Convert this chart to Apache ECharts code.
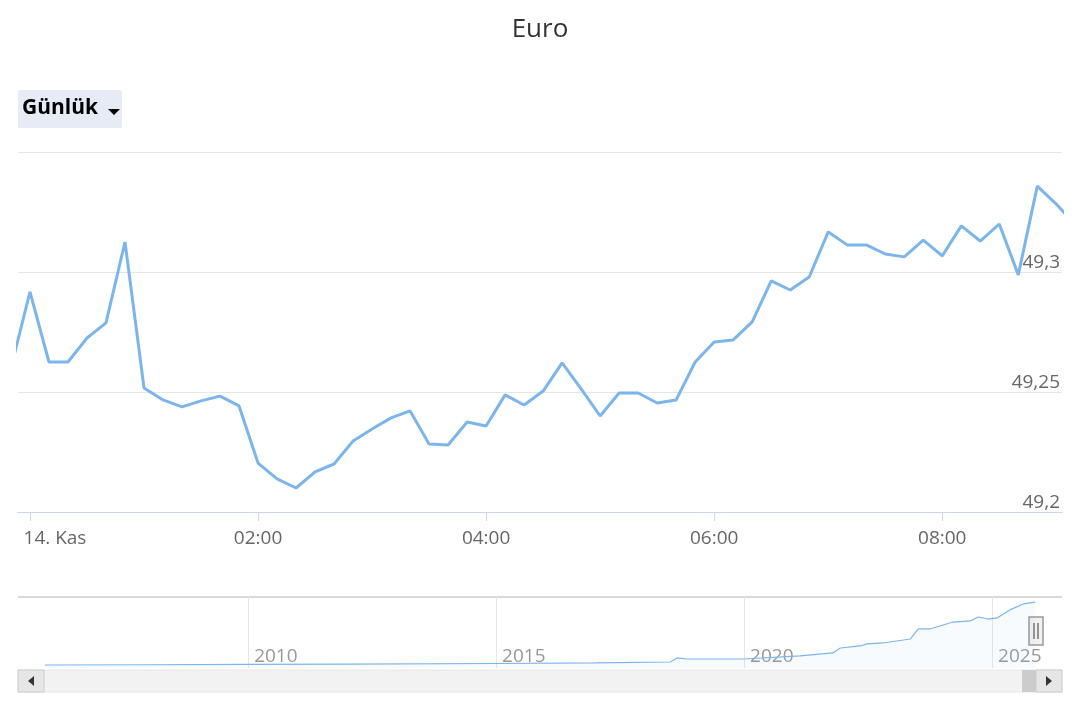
<!DOCTYPE html>
<html>
<head>
<meta charset="utf-8">
<title>Euro</title>
<script src="https://cdn.jsdelivr.net/npm/echarts@6/dist/echarts.min.js"></script>
<style>html,body{margin:0;padding:0;background:#fff;}#main{width:1080px;height:720px;}</style>
</head>
<body>
<div id="main"></div>
<script>
// gün içi veriler: saat (0 = 14. Kas 00:00), 10 dakikada bir
var hours = [];
for (var i = -1; i <= 55; i++) hours.push(i / 6);
var rates = [49.26, 49.2917, 49.2625, 49.2625, 49.2725, 49.2788, 49.3125, 49.2517, 49.2467, 49.2438,
  49.2463, 49.2483, 49.2442, 49.2204, 49.2138, 49.21, 49.2167, 49.22, 49.2296, 49.2346,
  49.2392, 49.2421, 49.2283, 49.2279, 49.2375, 49.2358, 49.2488, 49.2446, 49.2504, 49.2621,
  49.2513, 49.24, 49.2496, 49.2496, 49.2454, 49.2467, 49.2625, 49.2708, 49.2717, 49.2792,
  49.2963, 49.2925, 49.2979, 49.3167, 49.3113, 49.3113, 49.3075, 49.3063, 49.3133, 49.3067,
  49.3192, 49.3129, 49.32, 49.2988, 49.3358, 49.3283, 49.3196];
var hourTicks = [0, 2, 4, 6, 8];
var yTicks = [49.2, 49.25, 49.3];

// navigator: uzun dönem
var navYears = [2005.9, 2008, 2010, 2012, 2015, 2017, 2018.51, 2018.65, 2018.85, 2019.98, 2021.13, 2021.79,
  2021.94, 2022.34, 2022.48, 2022.8, 2023.35, 2023.51, 2023.75, 2024.21, 2024.56, 2024.72, 2024.92,
  2025.1, 2025.36, 2025.63, 2025.87];
var navValues = [2.2, 2.4, 2.6, 2.9, 3.3, 3.7, 4.4, 7.4, 6.6, 6.6, 8.9, 11.1,
  14.7, 16.2, 17.7, 18.4, 21.3, 28.7, 28.7, 33.8, 34.6, 37.5, 36.0,
  36.8, 42.7, 47.1, 48.5];
var navTicks = [2010, 2015, 2020, 2025];

var pairs = hours.map(function (h, k) { return [h, rates[k]]; });
var navPairs = navYears.map(function (y, k) { return [y, navValues[k]]; });

var font = '"Open Sans", "DejaVu Sans", sans-serif';
var chart = echarts.init(document.getElementById('main'));
chart.setOption({
  animation: false,
  title: { text: 'Euro', left: 'center', top: 12, textStyle: { fontFamily: font, fontSize: 26, fontWeight: 'normal', color: '#333' } },
  grid: [
    { left: 18, right: 18, top: 152, bottom: 208 },
    { left: 18, right: 18, top: 597, bottom: 52 }
  ],
  xAxis: [{
    type: 'value', gridIndex: 0, min: -0.105, max: 9.05,
    axisLine: { lineStyle: { color: '#ccd6eb' } },
    axisTick: { show: true, customValues: hourTicks, length: 9, lineStyle: { color: '#ccd6eb' } },
    axisLabel: {
      customValues: hourTicks, margin: 17, fontFamily: font, fontSize: 19, color: '#666',
      rich: { first: { fontFamily: font, fontSize: 19, color: '#666', padding: [0, 0, 0, 50] } },
      formatter: function (v) { return v === 0 ? '{first|14. Kas}' : ('0' + v).slice(-2) + ':00'; }
    },
    splitLine: { show: false }
  }, {
    type: 'value', gridIndex: 1, min: 2005.36, max: 2026.41,
    axisLine: { show: false },
    axisTick: { show: false, customValues: navTicks },
    axisLabel: {
      customValues: navTicks, inside: true, margin: 2, align: 'left', padding: [0, 0, 0, 6],
      fontFamily: font, fontSize: 19, color: '#999',
      formatter: function (v) { return String(v); }
    },
    splitLine: { show: true, lineStyle: { color: '#e6e6e6' } }
  }],
  yAxis: [{
    type: 'value', gridIndex: 0, position: 'right', min: 49.2, max: 49.35, interval: 0.05,
    axisLine: { show: false }, axisTick: { show: false },
    axisLabel: {
      inside: true, margin: 2, verticalAlign: 'bottom', fontFamily: font, fontSize: 19, color: '#666',
      formatter: function (v) {
        for (var k = 0; k < yTicks.length; k++) if (Math.abs(v - yTicks[k]) < 1e-6) return String(yTicks[k]).replace('.', ',');
        return '';
      }
    },
    splitLine: { lineStyle: { color: '#e6e6e6' } }
  }, {
    type: 'value', gridIndex: 1, min: 0, max: 52.2,
    axisLine: { show: false }, axisTick: { show: false }, axisLabel: { show: false }, splitLine: { show: false }
  }],
  series: [{
    type: 'line', xAxisIndex: 0, yAxisIndex: 0, data: pairs, showSymbol: false, clip: true,
    lineStyle: { color: '#7cb5ec', width: 3 }
  }, {
    type: 'line', xAxisIndex: 1, yAxisIndex: 1, data: navPairs, showSymbol: false,
    lineStyle: { color: '#7cb5ec', width: 1.2 }, areaStyle: { color: 'rgba(124,181,236,0.08)' }
  }],
  graphic: [
    // Günlük butonu
    { type: 'rect', left: 18, top: 90, shape: { width: 104, height: 38, r: 2 }, style: { fill: '#e6ebf5' } },
    { type: 'text', left: 22, top: 98, style: { text: 'Günlük', font: 'bold 21px ' + font, fill: '#000' } },
    { type: 'polygon', shape: { points: [[108, 109], [120, 109], [114, 115]] }, style: { fill: '#000' } },
    // navigator üst çizgi
    { type: 'line', shape: { x1: 18, y1: 597, x2: 1062, y2: 597 }, style: { stroke: '#cccccc', lineWidth: 1.5 } },
    // scrollbar
    { type: 'rect', shape: { x: 18, y: 670, width: 1044, height: 22 }, style: { fill: '#f2f2f2', stroke: '#e6e6e6' } },
    { type: 'rect', shape: { x: 18, y: 670, width: 26, height: 22 }, style: { fill: '#e6e6e6', stroke: '#cccccc' } },
    { type: 'polygon', shape: { points: [[34, 676], [34, 686], [28, 681]] }, style: { fill: '#333' } },
    { type: 'rect', shape: { x: 1022, y: 670, width: 14, height: 22 }, style: { fill: '#cccccc' } },
    { type: 'rect', shape: { x: 1036, y: 670, width: 26, height: 22 }, style: { fill: '#e6e6e6', stroke: '#cccccc' } },
    { type: 'polygon', shape: { points: [[1046, 676], [1046, 686], [1052, 681]] }, style: { fill: '#333' } },
    // navigator tutamacı
    { type: 'rect', shape: { x: 1029, y: 617, width: 14, height: 28 }, style: { fill: '#f2f2f2', stroke: '#999', lineWidth: 1.5 } },
    { type: 'line', shape: { x1: 1034, y1: 623, x2: 1034, y2: 639 }, style: { stroke: '#333', lineWidth: 1 } },
    { type: 'line', shape: { x1: 1038, y1: 623, x2: 1038, y2: 639 }, style: { stroke: '#333', lineWidth: 1 } }
  ]
});
</script>
</body>
</html>
